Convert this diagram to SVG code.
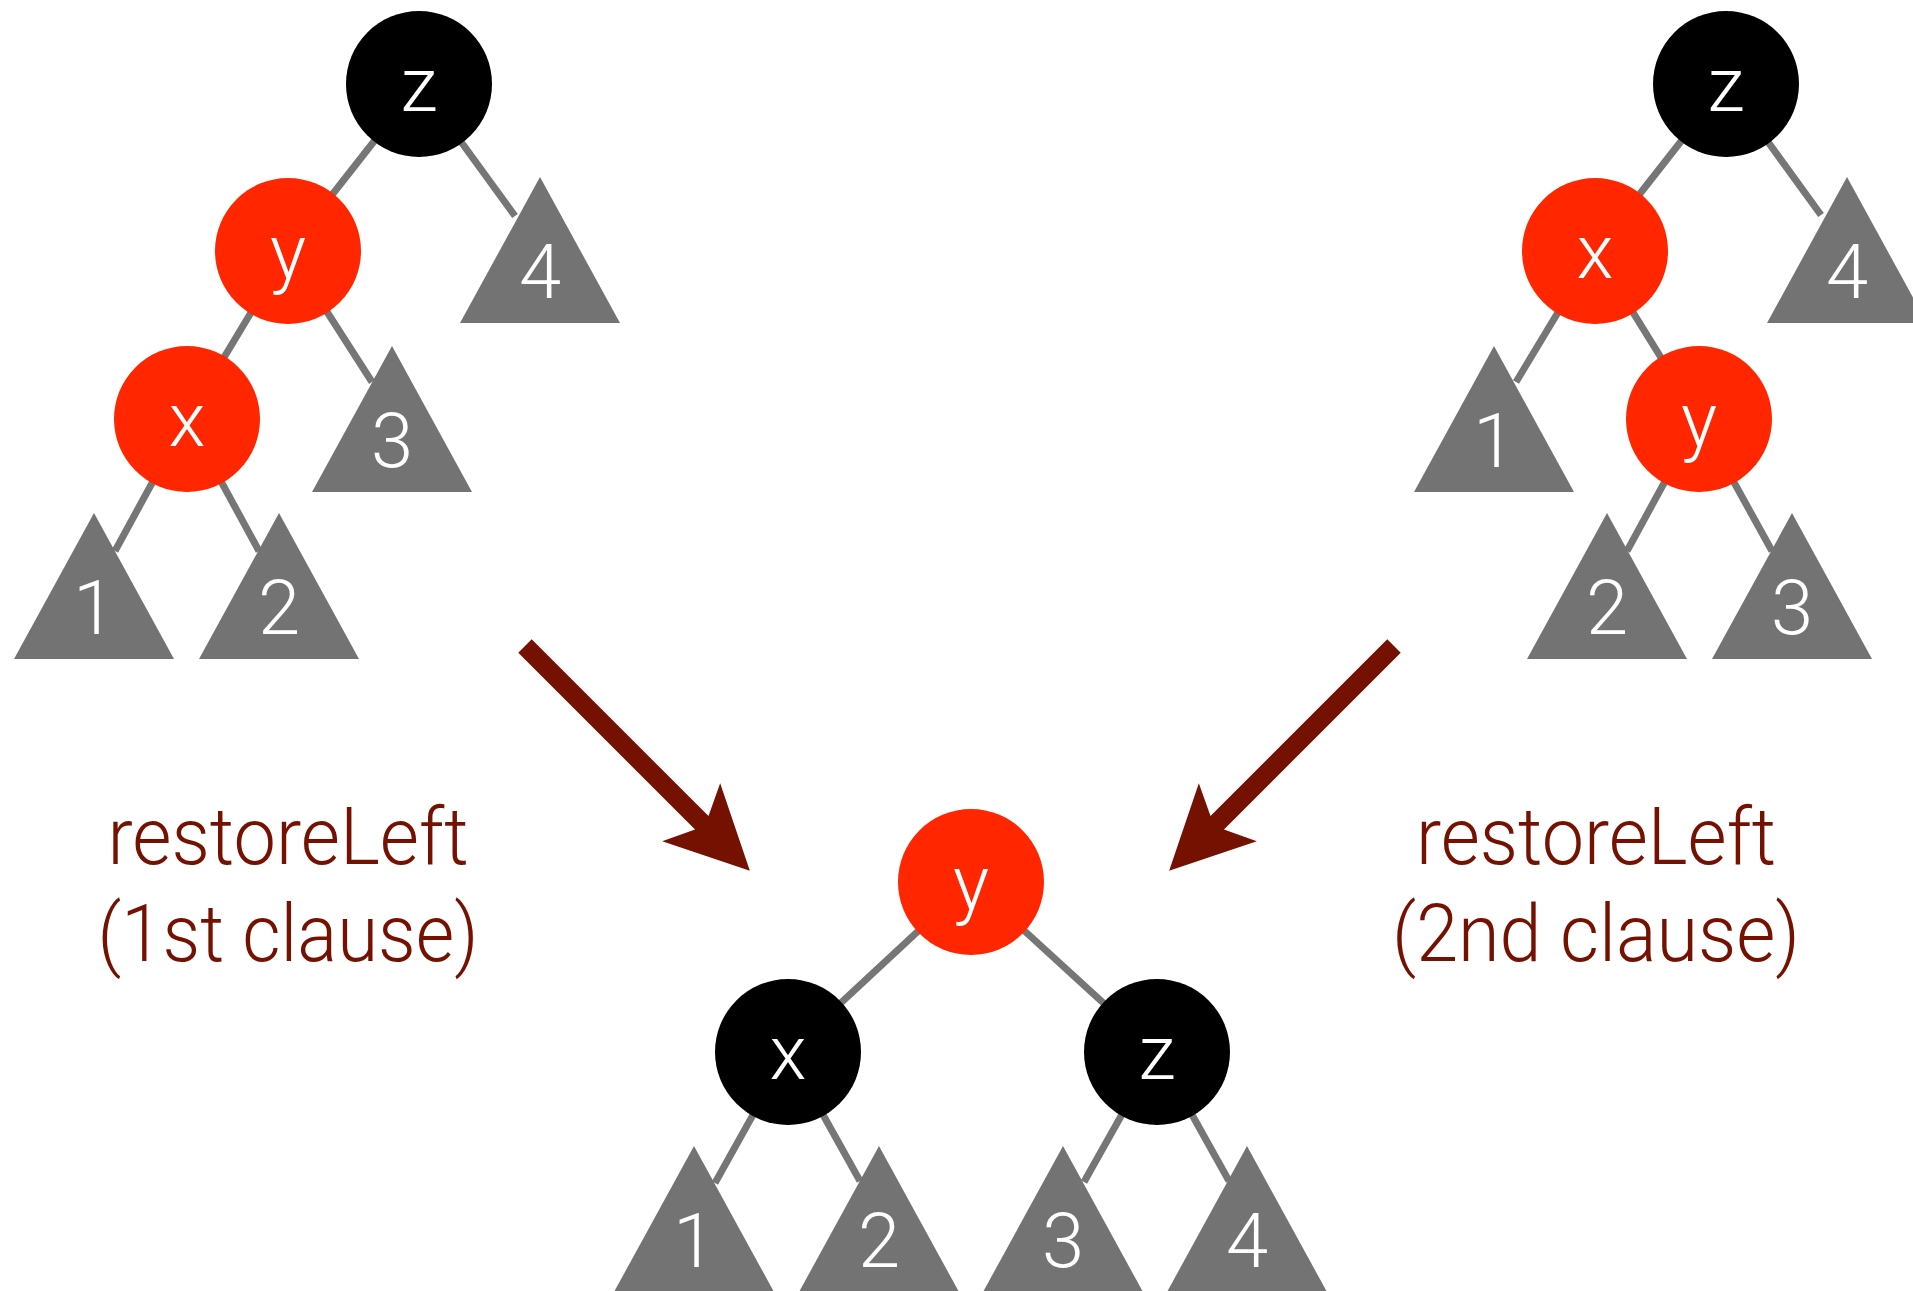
<svg xmlns="http://www.w3.org/2000/svg" width="1913" height="1291" viewBox="0 0 1913 1291">
  <style>
    .edge { stroke: #767676; stroke-width: 7; fill: none; }
    .tri { fill: #737373; }
    .red { fill: #ff2600; }
    .blk { fill: #000000; }
    .lbl { font-family: Roboto, "Liberation Sans", sans-serif; font-weight: 300; font-size: 76px; fill: #ffffff; text-anchor: middle; }
    .cap { font-family: Roboto, "Liberation Sans", sans-serif; font-weight: 300; font-size: 79px; fill: #751100; text-anchor: middle; }
    .arrow { fill: #751100; }
  </style>
  <defs>
    <!-- subtree triangle, origin at the apex -->
    <path id="tri" d="M0,0 L80,146 L-80,146 Z"/>
    <!-- thick arrow pointing along +x, origin at the tail -->
    <path id="arr" d="M0,-9.5 L250,-9.5 L235,-41 L318,0 L235,41 L250,9.5 L0,9.5 Z"/>
  </defs>

  <rect width="1913" height="1291" fill="#ffffff"/>

  <!-- connectors -->
  <g id="connectors">
    <!-- left tree -->
    <line class="edge" x1="419" y1="84" x2="288" y2="251"/>
    <line class="edge" x1="419" y1="84" x2="515" y2="216"/>
    <line class="edge" x1="288" y1="251" x2="187" y2="419"/>
    <line class="edge" x1="288" y1="251" x2="372" y2="382"/>
    <line class="edge" x1="187" y1="419" x2="115" y2="551"/>
    <line class="edge" x1="187" y1="419" x2="259" y2="551"/>
    <!-- right tree -->
    <line class="edge" x1="1726" y1="84" x2="1595" y2="251"/>
    <line class="edge" x1="1726" y1="84" x2="1821" y2="215"/>
    <line class="edge" x1="1595" y1="251" x2="1516" y2="382"/>
    <line class="edge" x1="1595" y1="251" x2="1699" y2="419"/>
    <line class="edge" x1="1699" y1="419" x2="1627" y2="551"/>
    <line class="edge" x1="1699" y1="419" x2="1772" y2="551"/>
    <!-- bottom tree -->
    <line class="edge" x1="971" y1="882" x2="788" y2="1052"/>
    <line class="edge" x1="971" y1="882" x2="1157" y2="1052"/>
    <line class="edge" x1="788" y1="1052" x2="715" y2="1183"/>
    <line class="edge" x1="788" y1="1052" x2="860" y2="1181"/>
    <line class="edge" x1="1157" y1="1052" x2="1084" y2="1182"/>
    <line class="edge" x1="1157" y1="1052" x2="1229" y2="1181"/>
    <!-- transformation arrows -->
    <use href="#arr" class="arrow" transform="translate(525,646) rotate(45)"/>
    <use href="#arr" class="arrow" transform="translate(1394,646) rotate(135)"/>
  </g>

  <!-- left tree nodes -->
  <g id="L-z"><circle class="blk" cx="419" cy="84" r="73"/><text class="lbl" x="419" y="111">z</text></g>
  <g id="L-y"><circle class="red" cx="288" cy="251" r="73"/><text class="lbl" x="288" y="278">y</text></g>
  <g id="L-x"><circle class="red" cx="187" cy="419" r="73"/><text class="lbl" x="187" y="446">x</text></g>
  <g id="L-t1"><use href="#tri" class="tri" x="94" y="513"/><text class="lbl" x="94" y="634">1</text></g>
  <g id="L-t2"><use href="#tri" class="tri" x="279" y="513"/><text class="lbl" x="279" y="634">2</text></g>
  <g id="L-t3"><use href="#tri" class="tri" x="392" y="346"/><text class="lbl" x="392" y="467">3</text></g>
  <g id="L-t4"><use href="#tri" class="tri" x="540" y="177"/><text class="lbl" x="540" y="298">4</text></g>

  <!-- right tree nodes -->
  <g id="R-z"><circle class="blk" cx="1726" cy="84" r="73"/><text class="lbl" x="1726" y="111">z</text></g>
  <g id="R-x"><circle class="red" cx="1595" cy="251" r="73"/><text class="lbl" x="1595" y="278">x</text></g>
  <g id="R-y"><circle class="red" cx="1699" cy="419" r="73"/><text class="lbl" x="1699" y="446">y</text></g>
  <g id="R-t1"><use href="#tri" class="tri" x="1494" y="346"/><text class="lbl" x="1494" y="467">1</text></g>
  <g id="R-t2"><use href="#tri" class="tri" x="1607" y="513"/><text class="lbl" x="1607" y="634">2</text></g>
  <g id="R-t3"><use href="#tri" class="tri" x="1792" y="513"/><text class="lbl" x="1792" y="634">3</text></g>
  <g id="R-t4"><use href="#tri" class="tri" x="1847" y="177"/><text class="lbl" x="1847" y="298">4</text></g>

  <!-- bottom (balanced) tree nodes -->
  <g id="B-y"><circle class="red" cx="971" cy="882" r="73"/><text class="lbl" x="971" y="909">y</text></g>
  <g id="B-x"><circle class="blk" cx="788" cy="1052" r="73"/><text class="lbl" x="788" y="1079">x</text></g>
  <g id="B-z"><circle class="blk" cx="1157" cy="1052" r="73"/><text class="lbl" x="1157" y="1079">z</text></g>
  <g id="B-t1"><use href="#tri" class="tri" x="694" y="1146"/><text class="lbl" x="694" y="1267">1</text></g>
  <g id="B-t2"><use href="#tri" class="tri" x="879" y="1146"/><text class="lbl" x="879" y="1267">2</text></g>
  <g id="B-t3"><use href="#tri" class="tri" x="1063" y="1146"/><text class="lbl" x="1063" y="1267">3</text></g>
  <g id="B-t4"><use href="#tri" class="tri" x="1247" y="1146"/><text class="lbl" x="1247" y="1267">4</text></g>

  <!-- captions -->
  <g id="caption-left">
    <text class="cap" x="288" y="864" textLength="361" lengthAdjust="spacingAndGlyphs">restoreLeft</text>
    <text class="cap" x="288" y="961" textLength="381" lengthAdjust="spacingAndGlyphs">(1st clause)</text>
  </g>
  <g id="caption-right">
    <text class="cap" x="1596" y="864" textLength="360" lengthAdjust="spacingAndGlyphs">restoreLeft</text>
    <text class="cap" x="1596" y="961" textLength="408" lengthAdjust="spacingAndGlyphs">(2nd clause)</text>
  </g>
</svg>
